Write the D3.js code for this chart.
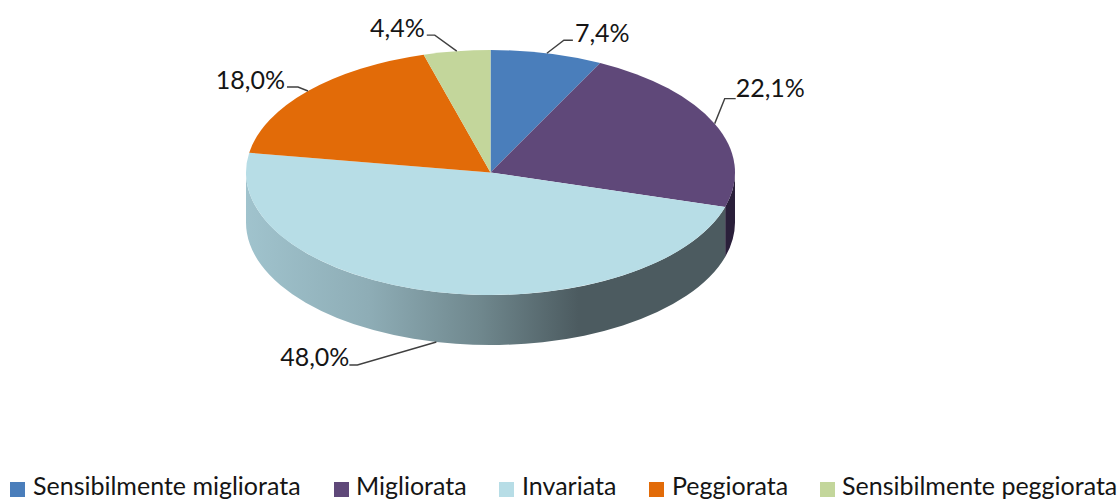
<!DOCTYPE html>
<html>
<head>
<meta charset="utf-8">
<script src="https://cdnjs.cloudflare.com/ajax/libs/d3/7.8.5/d3.min.js"></script>
<style>
  html, body { margin: 0; padding: 0; background: #fff; }
  text { font-family: Lato, sans-serif; fill: #151515; }
</style>
</head>
<body>
<div id="chart"></div>
<script>
var categories = ['Sensibilmente migliorata', 'Migliorata', 'Invariata', 'Peggiorata', 'Sensibilmente peggiorata'];
var values = [7.4, 22.1, 48.0, 18.0, 4.4];
var labels = ['7,4%', '22,1%', '48,0%', '18,0%', '4,4%'];
var colors = ['#4a7ebb', '#5f4879', '#b7dde6', '#e26b08', '#c3d69b'];
var sideColors = ['#2f5280', '#2a1f3a', 'url(#sideGrad)', '#a04c07', '#8a9a6e'];

var width = 1120, height = 500;
var cx = 490.5, cy = 172.5, rx = 244.5, ry = 122.5, depth = 50;

var svg = d3.select('#chart').append('svg')
  .attr('width', width)
  .attr('height', height)
  .style('display', 'block');

// shading of the rim, left to right
var grad = svg.append('defs').append('linearGradient')
  .attr('id', 'sideGrad')
  .attr('gradientUnits', 'userSpaceOnUse')
  .attr('x1', cx - rx).attr('x2', cx + rx)
  .attr('y1', 0).attr('y2', 0);
grad.append('stop').attr('offset', '0%').attr('stop-color', '#a0c3cd');
grad.append('stop').attr('offset', '25%').attr('stop-color', '#8eadb6');
grad.append('stop').attr('offset', '48%').attr('stop-color', '#6f878d');
grad.append('stop').attr('offset', '68%').attr('stop-color', '#4c5b60');
grad.append('stop').attr('offset', '100%').attr('stop-color', '#4c5b60');

var pie = d3.pie().sort(null).value(function(d) { return d; });
var slices = pie(values);

var arc = d3.arc().innerRadius(0).outerRadius(rx);

// angle (clockwise from 12 o'clock) to a point on the tilted ellipse
function ellipsePoint(a) {
  return [cx + rx * Math.sin(a), cy - ry * Math.cos(a)];
}

// only the front half of the rim can be seen
function sidePath(d) {
  var a0 = Math.max(d.startAngle, Math.PI / 2);
  var a1 = Math.min(d.endAngle, Math.PI * 1.5);
  if (a1 <= a0) return null;
  var p0 = ellipsePoint(a0), p1 = ellipsePoint(a1);
  return 'M' + p0[0] + ',' + p0[1] +
    'A' + rx + ',' + ry + ' 0 0 1 ' + p1[0] + ',' + p1[1] +
    'L' + p1[0] + ',' + (p1[1] + depth) +
    'A' + rx + ',' + ry + ' 0 0 0 ' + p0[0] + ',' + (p0[1] + depth) + 'Z';
}

svg.append('g').selectAll('path')
  .data(slices)
  .enter()
  .append('path')
  .attr('d', sidePath)
  .attr('fill', function(d, i) { return sideColors[i]; });

svg.append('g')
  .attr('transform', 'translate(' + cx + ',' + cy + ') scale(1,' + (ry / rx) + ')')
  .selectAll('path')
  .data(slices)
  .enter()
  .append('path')
  .attr('d', arc)
  .attr('fill', function(d, i) { return colors[i]; });

// leader lines: offsets from the slice midpoint to the label
var leaders = [
  { dx: 17, dy: -13, ex: 26, ey: -13, tx: 28, ty: -20, anchor: 'start', rim: 0 },
  { dx: 10, dy: -25, ex: 21, ey: -25, tx: 21, ty: -35, anchor: 'start', rim: 0 },
  { dx: -79, dy: 23, ex: -87, ey: 23, tx: -87, ty: 15, anchor: 'end', rim: depth },
  { dx: -10, dy: -4, ex: -21, ey: -4, tx: -23, ty: -11, anchor: 'end', rim: 0 },
  { dx: -22, dy: -16, ex: -30, ey: -16, tx: -32, ty: -23, anchor: 'end', rim: 0 }
];

var line = d3.line();
var labelG = svg.append('g');
slices.forEach(function(d, i) {
  var m = ellipsePoint((d.startAngle + d.endAngle) / 2);
  var l = leaders[i];
  var y0 = m[1] + l.rim;
  labelG.append('path')
    .attr('d', line([[m[0], y0], [m[0] + l.dx, y0 + l.dy], [m[0] + l.ex, y0 + l.ey]]))
    .attr('fill', 'none')
    .attr('stroke', '#404040')
    .attr('stroke-width', 1.4);
  labelG.append('text')
    .attr('x', m[0] + l.tx)
    .attr('y', y0 + l.ty)
    .attr('dy', '0.35em')
    .attr('text-anchor', l.anchor)
    .attr('font-size', 25)
    .text(labels[i]);
});

// legend
var legendX = d3.scaleOrdinal().domain(categories).range([10, 334, 499, 649, 820]);
var legendText = d3.scaleOrdinal().domain(categories).range([23, 22, 23, 23, 22]);
var legend = svg.append('g').selectAll('g')
  .data(categories)
  .enter()
  .append('g')
  .attr('transform', function(d) { return 'translate(' + legendX(d) + ',482)'; });
legend.append('rect')
  .attr('width', 15)
  .attr('height', 15)
  .attr('fill', function(d, i) { return colors[i]; });
legend.append('text')
  .attr('x', function(d) { return legendText(d); })
  .attr('y', 12.5)
  .attr('font-size', 25)
  .text(function(d) { return d; });
</script>
</body>
</html>
